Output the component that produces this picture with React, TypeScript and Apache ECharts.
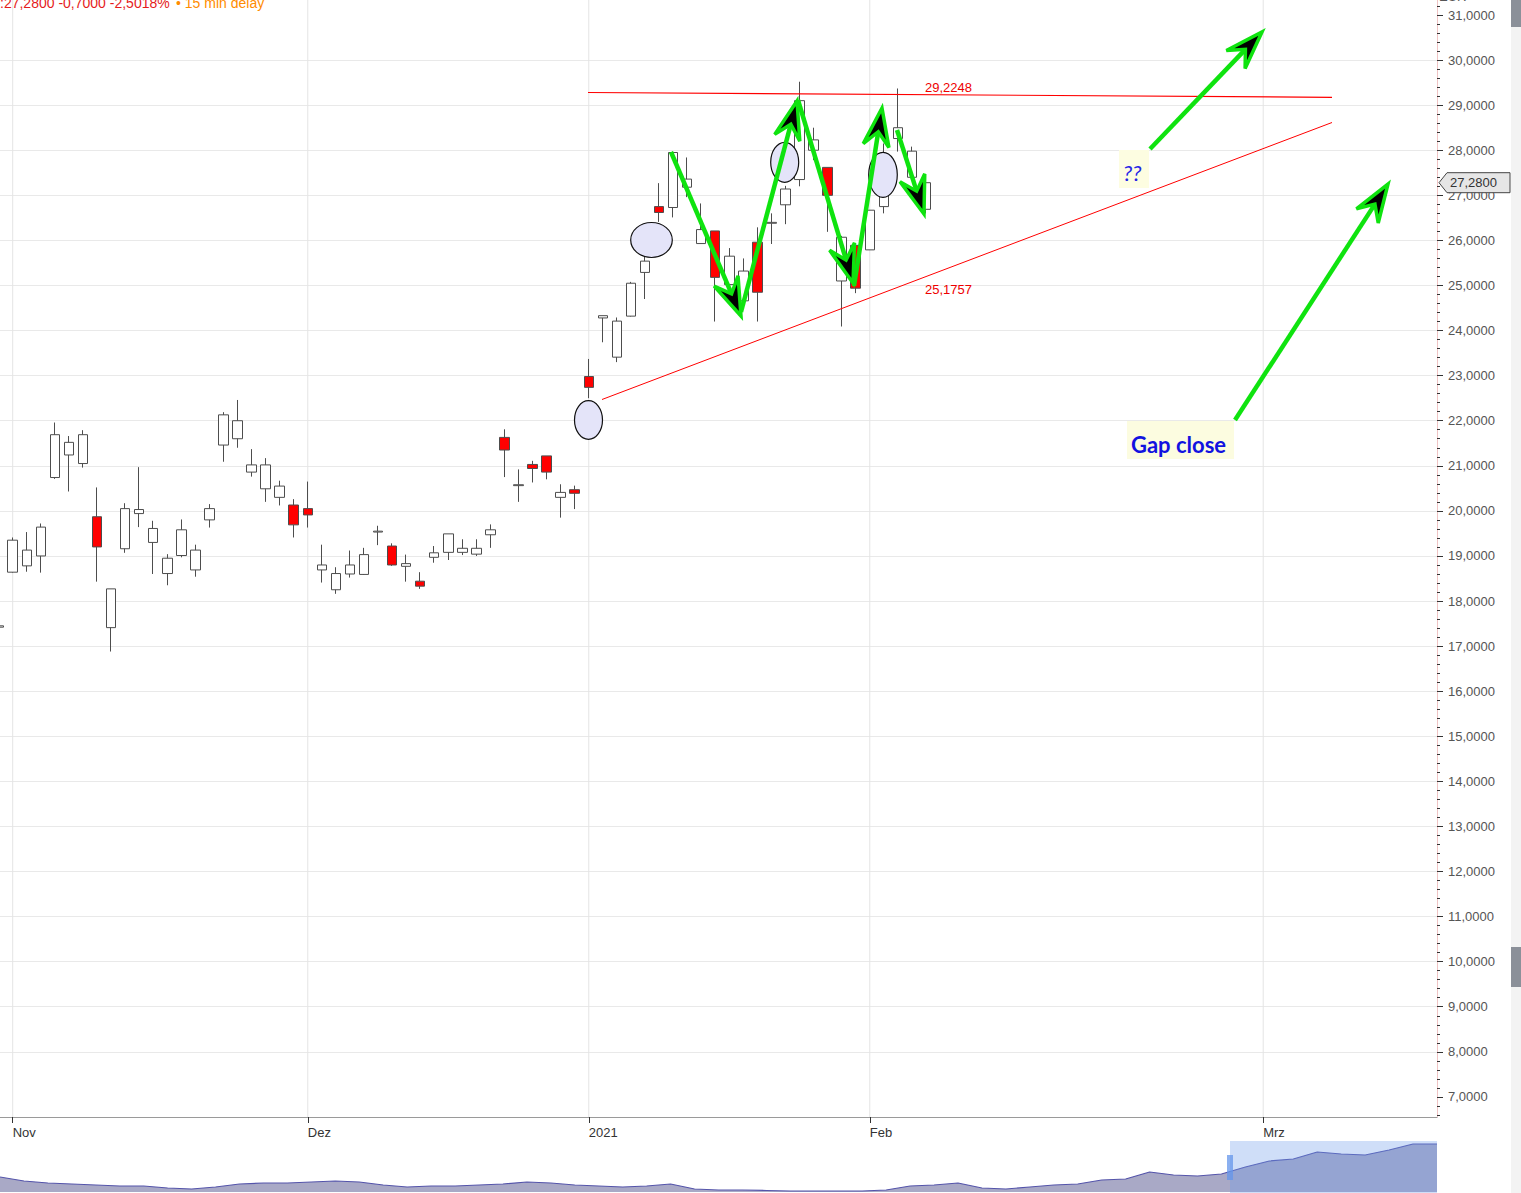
import React, { useEffect, useRef } from 'react';
import * as echarts from 'echarts';

// ---- data (trading-day index starts at -1 = 30 Oct 2020) ----
const firstIndex = -1;
const opens = [17.42, 18.64, 18.78, 19.0, 20.74, 21.24, 21.05, 19.87, 17.41, 19.16, 19.94, 19.3, 18.61, 19.01, 18.69, 19.8, 21.46, 21.6, 20.86, 20.49, 20.3, 20.13,
  20.05, 18.69, 18.25, 18.6, 18.59, 19.53, 19.22, 18.77, 18.44, 18.97, 19.08, 19.08, 19.04, 19.47, 21.63, 20.56, 21.03, 21.22, 20.3, 20.47,
  22.98, 24.28, 23.41, 24.32, 25.29, 26.75, 26.73, 27.18, 25.93, 26.21, 25.02, 24.66, 25.96, 26.38, 26.79, 27.35, 28.0, 27.62, 25.1, 25.89,
  25.79, 26.75, 28.26, 27.4, 26.69];
const closes = [17.45, 19.35, 19.13, 19.64, 21.69, 21.52, 21.69, 19.2, 18.27, 20.05, 20.03, 19.61, 18.95, 19.58, 19.13, 20.05, 22.13, 22.0, 21.02, 21.02, 20.55, 19.69,
  19.91, 18.8, 18.61, 18.8, 19.03, 19.55, 18.8, 18.83, 18.33, 19.07, 19.49, 19.17, 19.17, 19.58, 21.35, 20.58, 20.94, 20.86, 20.41, 20.39,
  22.74, 24.33, 24.21, 25.05, 25.54, 26.62, 27.95, 27.36, 26.24, 25.18, 25.65, 25.32, 24.85, 26.4, 27.14, 29.1, 28.23, 27.0, 26.07, 24.94,
  26.67, 27.9, 28.5, 27.98, 27.28];
const lows = [17.4, 18.63, 18.65, 18.63, 20.71, 20.43, 20.96, 18.43, 16.88, 19.07, 19.64, 18.6, 18.35, 18.97, 18.54, 19.63, 21.09, 21.4, 20.76, 20.2, 20.12, 19.41,
  19.63, 18.41, 18.16, 18.52, 18.58, 19.24, 18.78, 18.43, 18.27, 18.85, 18.91, 19.02, 19.0, 19.18, 20.75, 20.2, 20.63, 20.7, 19.85, 20.04,
  22.5, 23.74, 23.3, 24.31, 24.7, 26.41, 26.51, 26.96, 25.93, 24.2, 24.7, 24.5, 24.2, 25.92, 26.36, 27.2, 27.78, 26.19, 24.09, 24.83,
  25.79, 26.6, 27.97, 27.35, 26.6];
const highs = [17.47, 19.41, 19.53, 19.72, 21.96, 21.66, 21.79, 20.52, 18.27, 20.17, 20.97, 19.78, 19.04, 19.81, 19.25, 20.15, 22.19, 22.46, 21.37, 21.17, 20.67, 20.26,
  20.65, 19.25, 18.75, 19.12, 19.18, 19.67, 19.28, 19.03, 18.64, 19.22, 19.49, 19.37, 19.37, 19.7, 21.81, 20.92, 21.11, 21.22, 20.59, 20.56,
  23.37, 24.33, 24.29, 25.08, 25.74, 27.27, 27.97, 27.84, 26.82, 26.21, 25.83, 25.6, 26.29, 26.6, 27.21, 29.52, 28.5, 27.62, 26.1, 25.93,
  26.67, 28.15, 29.37, 28.08, 27.35];

const monthTickIdx = [0, 21, 41, 61, 89];
const monthLabels = ['Nov', 'Dez', '2021', 'Feb', 'Mrz'];
const yTickVals = [7, 8, 9, 10, 11, 12, 13, 14, 15, 16, 17, 18, 19, 20, 21, 22, 23, 24, 25, 26, 27, 28, 29, 30, 31];

const headerQuote = ':27,2800 -0,7000 -2,5018%';
const headerDelay = '\u2022 15 min delay';
const levelTop = '29,2248';
const levelBottom = '25,1757';

// navigator history (relative heights)
const navValues = [15, 11, 9, 8, 7, 6, 6, 4, 3, 5, 8, 9, 9, 10, 11, 10, 7, 5, 6, 6, 7, 8, 10, 9, 7, 6, 5, 6, 8, 3,
  2, 2, 1.5, 1, 1, 1, 1, 2, 6, 7, 9, 4, 3, 5, 7, 8, 12, 13, 20, 17, 16, 18, 25, 31, 33, 40, 38, 37, 42, 48, 48];

// ---- layout / style ----
const W = 1521, H = 1193;
const PLOT_W = 1437, PLOT_H = 1117;
const Y_MIN = 6.554, Y_MAX = 31.333;
const X_MIN = -0.904, X_MAX = 101.37;
const GREEN = '#0fe30f';
const AX_FONT = 'Liberation Sans';

const fmt4 = (v: number) => v.toFixed(4).replace('.', ',');

function arrow(x1: number, y1: number, x2: number, y2: number) {
  const dx = x2 - x1, dy = y2 - y1, len = Math.hypot(dx, dy);
  const ux = dx / len, uy = dy / len, px = -uy, py = ux;
  const L = 38, Wd = 13, N = 24;
  const b1 = [x2 - ux * L + px * Wd, y2 - uy * L + py * Wd];
  const b2 = [x2 - ux * L - px * Wd, y2 - uy * L - py * Wd];
  const nt = [x2 - ux * N, y2 - uy * N];
  return [
    { type: 'line', z: 120, shape: { x1, y1, x2: nt[0], y2: nt[1] }, style: { stroke: GREEN, lineWidth: 4.5 } },
    { type: 'polygon', z: 121, shape: { points: [[x2, y2], b1, nt, b2] }, style: { fill: '#000', stroke: GREEN, lineWidth: 3.5, lineJoin: 'miter' } },
  ];
}

export default function App() {
  const ref = useRef<HTMLDivElement>(null);
  useEffect(() => {
    document.body.style.margin = '0';
    const chart = echarts.init(ref.current!, null, { renderer: 'svg' });
    const candleData = opens.map((o, i) => [firstIndex + i, o, closes[i], lows[i], highs[i]]);
    const minorVals: number[] = [];
    for (let t = 6; t <= 31; t++) for (let k = 1; k <= 4; k++) {
      const v = Math.round((t + k * 0.2) * 10) / 10;
      if (v > Y_MIN && v < Y_MAX) minorVals.push(v);
    }
    chart.setOption({
      animation: false,
      backgroundColor: '#fff',
      grid: [
        { left: 0, top: 0, width: PLOT_W, height: PLOT_H },
        { left: 0, top: 1141, width: PLOT_W, height: 51 },
        { left: 0, top: 0, width: PLOT_W, height: PLOT_H },
      ],
      xAxis: [
        {
          type: 'value', gridIndex: 0, min: X_MIN, max: X_MAX,
          axisLine: { show: true, onZero: false, lineStyle: { color: '#9a9a9a', width: 1 } },
          axisTick: { show: true, customValues: monthTickIdx, length: 6, lineStyle: { color: '#333' } },
          axisLabel: {
            show: true, customValues: monthTickIdx, align: 'left', margin: 9,
            color: '#333', fontSize: 13, fontFamily: AX_FONT,
            formatter: (v: number) => monthLabels[monthTickIdx.indexOf(Math.round(v))] ?? '',
          },
          splitLine: { show: false },
        },
        { type: 'value', gridIndex: 1, min: 0, max: navValues.length - 1, show: false },
        { type: 'value', gridIndex: 2, min: X_MIN, max: X_MAX, show: false },
      ],
      yAxis: [
        {
          type: 'value', gridIndex: 0, position: 'right', min: Y_MIN, max: Y_MAX, splitNumber: 24,
          axisLine: { show: true, onZero: false, lineStyle: { color: '#f0c4c4', width: 1 } },
          axisTick: { show: true, customValues: yTickVals, length: 6, lineStyle: { color: '#333' } },
          axisLabel: {
            show: true, customValues: yTickVals, margin: 11, color: '#555', fontSize: 13, fontFamily: AX_FONT,
            formatter: (v: number) => fmt4(v),
          },
          splitLine: { show: true, showMinLine: false, showMaxLine: false, lineStyle: { color: '#e9e9e9', width: 1 } },
        },
        {
          type: 'value', gridIndex: 2, position: 'right', min: Y_MIN, max: Y_MAX,
          axisLine: { show: false, onZero: false },
          axisTick: { show: true, customValues: minorVals, length: 3, lineStyle: { color: '#333' } },
          axisLabel: { show: false },
          splitLine: { show: false },
        },
        { type: 'value', gridIndex: 1, min: 0, max: 51, show: false },
      ],
      series: [
        {
          type: 'custom', xAxisIndex: 0, yAxisIndex: 0, z: 1, silent: true,
          data: monthTickIdx.map((i) => [i, 20]),
          encode: { x: 0, y: 1 },
          renderItem: (params: any, api: any) => {
            const x = api.coord([api.value(0), 20])[0];
            const cs = params.coordSys;
            return { type: 'line', shape: { x1: x, y1: cs.y, x2: x, y2: cs.y + cs.height }, style: { stroke: '#e4e4e4', lineWidth: 1 } };
          },
        },
        {
          type: 'candlestick', xAxisIndex: 0, yAxisIndex: 0, z: 3,
          data: candleData,
          encode: { x: 0, y: [1, 2, 3, 4] },
          barWidth: 10,
          itemStyle: { color: '#ffffff', color0: '#ff0000', borderColor: '#4d4d4d', borderColor0: '#4d4d4d', borderWidth: 1 },
        },
        {
          type: 'line', xAxisIndex: 1, yAxisIndex: 2, symbol: 'none', silent: true,
          data: navValues.map((v, i) => [i, v]),
          lineStyle: { color: '#5454aa', width: 1.2 },
          areaStyle: { color: '#a9a9c6', opacity: 1 },
        },
      ],
    });

    const last = closes[closes.length - 1];
    const yLast = chart.convertToPixel({ yAxisIndex: 0 }, last) as number;

    const ellipses = [
      [588.5, 420, 14, 19.3], [651.5, 240, 20.8, 17.5], [784.7, 162.3, 14, 20], [883, 174.8, 14.3, 22.5],
    ];
    const arrows = [
      [671, 152, 741, 316], [741, 312, 797, 101], [798, 100, 853, 283], [854, 286, 882, 108],
      [897, 130, 924, 214], [1150, 149, 1262, 32], [1235, 420, 1388, 184],
    ];

    const g: any[] = [];
    // trend lines
    g.push({ type: 'line', z: 110, shape: { x1: 588, y1: 92.5, x2: 1332, y2: 97.3 }, style: { stroke: '#ff0000', lineWidth: 1.2 } });
    g.push({ type: 'line', z: 110, shape: { x1: 602, y1: 399.5, x2: 1332, y2: 122.5 }, style: { stroke: '#ff0000', lineWidth: 1 } });
    g.push({ type: 'text', z: 110, x: 925, y: 87, style: { text: levelTop, fill: '#ee0000', fontSize: 13, fontFamily: AX_FONT, verticalAlign: 'middle' } });
    g.push({ type: 'text', z: 110, x: 925, y: 289, style: { text: levelBottom, fill: '#ee0000', fontSize: 13, fontFamily: AX_FONT, verticalAlign: 'middle' } });
    // ellipses
    ellipses.forEach(([cx, cy, rx, ry]) => g.push({ type: 'ellipse', z: 115, shape: { cx, cy, rx, ry }, style: { fill: '#e4e4f9', stroke: '#111', lineWidth: 1.2 } }));
    // arrows
    arrows.forEach(([a, b, c, d]) => g.push(...arrow(a, b, c, d)));
    // text boxes
    g.push({ type: 'rect', z: 118, shape: { x: 1119, y: 150, width: 30, height: 38 }, style: { fill: '#fdfde1' } });
    g.push({ type: 'text', z: 119, x: 1123, y: 172, style: { text: '??', fill: '#2525e6', fontSize: 22, fontStyle: 'italic', fontFamily: 'Lato', verticalAlign: 'middle' } });
    g.push({ type: 'rect', z: 118, shape: { x: 1127, y: 421, width: 107, height: 38 }, style: { fill: '#fcfce0' } });
    g.push({ type: 'text', z: 119, x: 1131, y: 444, style: { text: 'Gap close', fill: '#1212e0', fontSize: 22, fontWeight: 'bold', fontFamily: 'Lato', verticalAlign: 'middle' } });
    // header (cut off at the top edge, as in the source screenshot)
    g.push({ type: 'text', z: 130, x: 0, y: 3, style: { text: headerQuote, fill: '#e51c1c', fontSize: 14, fontFamily: AX_FONT, verticalAlign: 'middle' } });
    g.push({ type: 'text', z: 130, x: 176, y: 3, style: { text: headerDelay, fill: '#ff8c00', fontSize: 14, fontFamily: AX_FONT, verticalAlign: 'middle' } });
    g.push({ type: 'text', z: 130, x: 1439, y: 2.5, style: { text: 'EUR', fill: '#555', fontSize: 13, fontFamily: AX_FONT, verticalAlign: 'bottom' } });
    // price tag
    g.push({
      type: 'polygon', z: 130,
      shape: { points: [[1439, yLast], [1447, yLast - 10], [1510, yLast - 10], [1510, yLast + 10], [1447, yLast + 10]] },
      style: { fill: '#e6e6e6', stroke: '#444', lineWidth: 1 },
    });
    g.push({ type: 'text', z: 131, x: 1450, y: yLast, style: { text: fmt4(last), fill: '#333', fontSize: 13, fontFamily: AX_FONT, verticalAlign: 'middle' } });
    // scrollbar strip
    g.push({ type: 'rect', z: 100, shape: { x: 1511, y: 0, width: 10, height: H }, style: { fill: '#f3f3f3' } });
    g.push({ type: 'rect', z: 101, shape: { x: 1511, y: 0, width: 10, height: 27 }, style: { fill: '#8b9099' } });
    g.push({ type: 'rect', z: 101, shape: { x: 1511, y: 947, width: 10, height: 40 }, style: { fill: '#8b9099' } });
    // navigator selection
    g.push({ type: 'rect', z: 105, shape: { x: 1230, y: 1141, width: 207, height: 52 }, style: { fill: 'rgba(109,155,233,0.33)' } });
    g.push({ type: 'rect', z: 106, shape: { x: 1227, y: 1155, width: 6, height: 25 }, style: { fill: 'rgba(100,150,235,0.75)' } });

    chart.setOption({ graphic: { elements: g } });
    return () => chart.dispose();
  }, []);
  return <div ref={ref} style={{ position: 'absolute', left: 0, top: 0, width: W, height: H, background: '#fff' }} />;
}
